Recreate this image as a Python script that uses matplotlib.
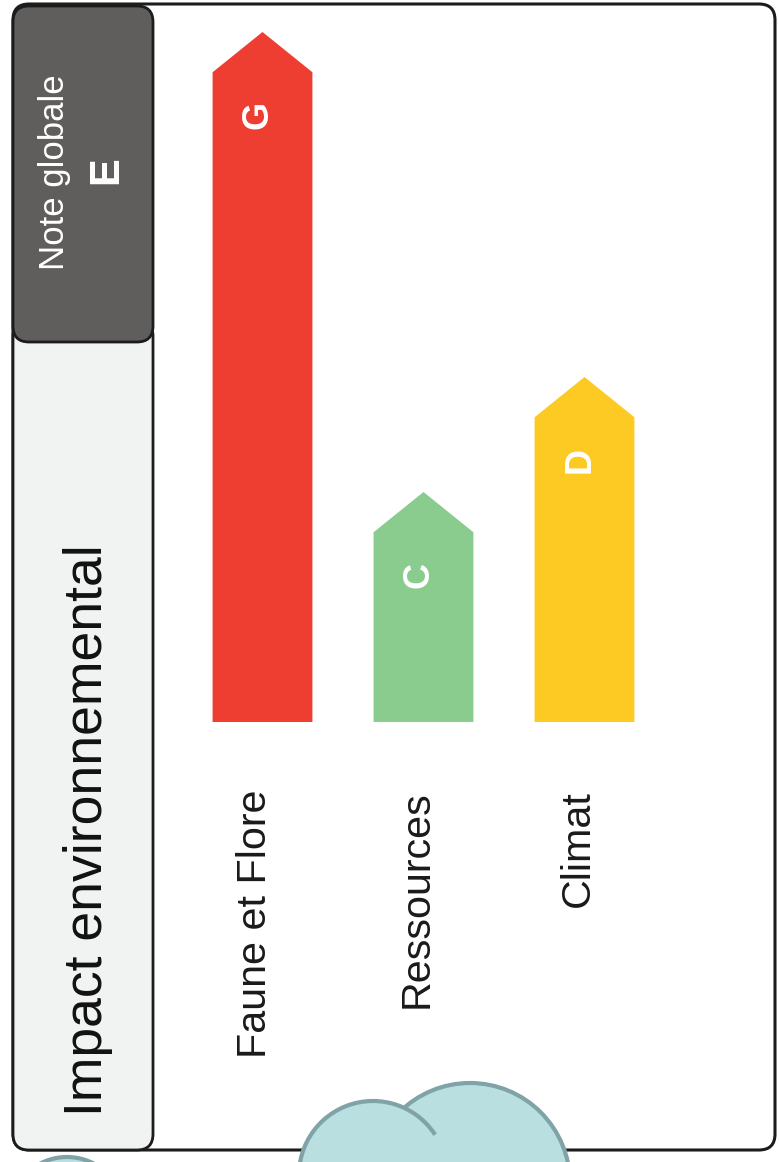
import matplotlib
matplotlib.use("Agg")
import matplotlib.pyplot as plt
from matplotlib.patches import FancyBboxPatch, Polygon, Circle, Arc

# environmental label data
categories = ["Faune et Flore", "Ressources", "Climat"]
grades = ["G", "C", "D"]
bar_colors = ["#ee3d31", "#8acb8e", "#fdc923"]
overall_title = "Note globale"
overall_grade = "E"
panel_title = "Impact environnemental"
scale = "ABCDEFG"

# bar height = position of the grade on the A..G scale
values = [scale.index(g) for g in grades]

plt.rcParams["font.family"] = ["Liberation Sans", "DejaVu Sans"]

W, H = 779, 1162
fig = plt.figure(figsize=(W / 100, H / 100), dpi=100)
fig.patch.set_facecolor("white")

# background axes in pixel units, y pointing down
bg = fig.add_axes([0, 0, 1, 1])
bg.set_xlim(0, W)
bg.set_ylim(H, 0)
bg.axis("off")

edge = "#1c1c1c"
bg.add_patch(FancyBboxPatch((13, 4), 762, 1146, boxstyle="round,pad=0,rounding_size=16",
                            fc="white", ec=edge, lw=2.2))
bg.add_patch(FancyBboxPatch((13, 320), 140, 830, boxstyle="round,pad=0,rounding_size=16",
                            fc="#f1f2f2", ec=edge, lw=2.0))
bg.add_patch(FancyBboxPatch((13, 6), 140, 336, boxstyle="round,pad=0,rounding_size=16",
                            fc="#5f5e5c", ec=edge, lw=2.0))

bg.text(55, 172, overall_title, rotation=90, color="white", fontsize=25,
        ha="center", va="center")
bg.text(106, 170, overall_grade, rotation=90, color="white", fontsize=30,
        fontweight="bold", ha="center", va="center")
bg.text(88, 1116, panel_title, rotation=90, color="#111111", fontsize=38.5,
        ha="center", va="bottom")

# cloud at the bottom
cloud_fc, cloud_ec = "#b9dfe1", "#7fa3a6"
bg.add_patch(Circle((470, 1183), 100, fc=cloud_fc, ec=cloud_ec, lw=3, zorder=5))
bg.add_patch(Circle((373, 1175), 74, fc=cloud_fc, ec="none", zorder=6))
bg.add_patch(Arc((373, 1175), 148, 148, theta1=-200, theta2=-33, ec=cloud_ec, lw=3, zorder=7))
bg.add_patch(Circle((67, 1215), 58, fc=cloud_fc, ec=cloud_ec, lw=3, zorder=5))

# bar axes: one unit per grade step
ax = fig.add_axes([182 / W, (H - 722) / H, 483 / W, 6.25 * 115 / H])
ax.set_xlim(-0.5, 2.5)
ax.set_ylim(0, 6.25)
ax.axis("off")

hw = 0.31
head = 0.35
for i, (v, g, c) in enumerate(zip(values, grades, bar_colors)):
    pts = [(i - hw, 0), (i - hw, v - head), (i, v), (i + hw, v - head), (i + hw, 0)]
    ax.add_patch(Polygon(pts, closed=True, fc=c, ec="none"))
    ax.text(i - 0.03, v - 0.72, g, rotation=90, color="white", fontsize=26,
            fontweight="bold", ha="center", va="center")
    ax.annotate(categories[i], xy=(i, 0), xytext=(-7, -68), textcoords="offset pixels",
                rotation=90, ha="center", va="top", fontsize=29.7, color="#1a1a1a")

fig.savefig("out.png", dpi=100)
